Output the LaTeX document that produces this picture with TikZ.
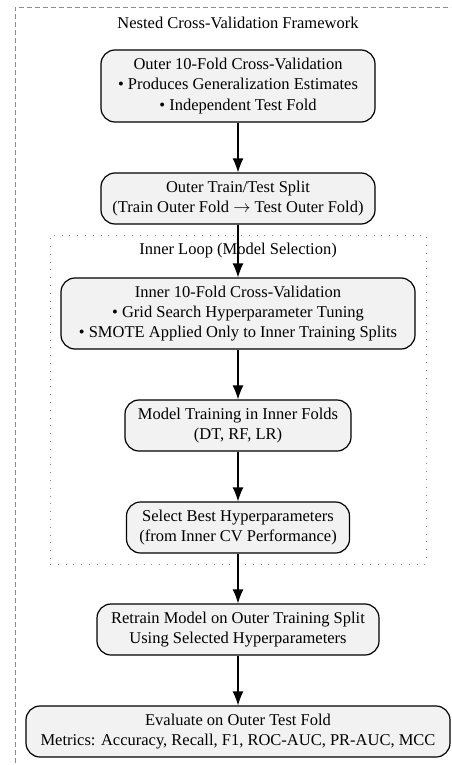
\documentclass[tikz,border=0pt]{standalone}
\usepackage{fontspec}
\setmainfont{Liberation Serif}
\usetikzlibrary{arrows.meta}
\definecolor{boxgray}{HTML}{F2F2F2}
\definecolor{framegray}{HTML}{8C8C8C}

\begin{document}
\begin{tikzpicture}[x=1pt, y=-1pt, font=\fontsize{16.5}{20.3}\selectfont]
            \tikzset{block/.style = {draw, rounded corners=14pt, fill=boxgray, line width=1.2pt, align=center, inner sep=2pt}}
            \tikzset{edge/.style = {-{Latex[length=14pt,width=11pt]}, line width=1.2pt}}
            \tikzset{outerframe/.style = {draw=framegray, line width=0.8pt, dash pattern=on 5pt off 3pt}}
            \tikzset{innerframe/.style = {draw=framegray, line width=0.8pt, dash pattern=on 0.8pt off 7pt}}

            \useasboundingbox (0,0) rectangle (451,765);
            \clip (0,0) rectangle (451,765);

            \node[outerframe, minimum width=450pt, minimum height=773pt] (framework) at (240,393.5) {};
            \node (frametitle) at (238,23) {Nested Cross-Validation Framework};

            \node[innerframe, minimum width=376pt, minimum height=329pt] (innerloop) at (238,399.5) {};
            \node (innertitle) at (238,251) {Inner Loop (Model Selection)};

            \node[block, minimum width=274pt, minimum height=72pt] (outercv) at (238,86) {Outer 10-Fold Cross-Validation\\• Produces Generalization Estimates\\• Independent Test Fold};
            \node[block, minimum width=274pt, minimum height=51pt] (split) at (238,198.5) {Outer Train/Test Split\\(Train Outer Fold $\rightarrow$ Test Outer Fold)};
            \node[block, minimum width=354pt, minimum height=71pt] (innercv) at (238,313.5) {Inner 10-Fold Cross-Validation\\• Grid Search Hyperparameter Tuning\\• SMOTE Applied Only to Inner Training Splits};
            \node[block, minimum width=226pt, minimum height=51pt] (training) at (238,425.5) {Model Training in Inner Folds\\(DT, RF, LR)};
            \node[block, minimum width=223pt, minimum height=51pt] (select) at (238,527.5) {Select Best Hyperparameters\\(from Inner CV Performance)};
            \node[block, minimum width=282pt, minimum height=51pt] (retrain) at (238,629.5) {Retrain Model on Outer Training Split\\Using Selected Hyperparameters};
            \node[block, minimum width=424pt, minimum height=51pt] (evaluate) at (238,731.5) {Evaluate on Outer Test Fold\\Metrics: Accuracy, Recall, F1, ROC-AUC, PR-AUC, MCC};

            \draw[edge] (outercv) to (split);
            \draw[edge] (split) to (innercv);
            \draw[edge] (innercv) to (training);
            \draw[edge] (training) to (select);
            \draw[edge] (select) to (retrain);
            \draw[edge] (retrain) to (evaluate);
\end{tikzpicture}
\end{document}
